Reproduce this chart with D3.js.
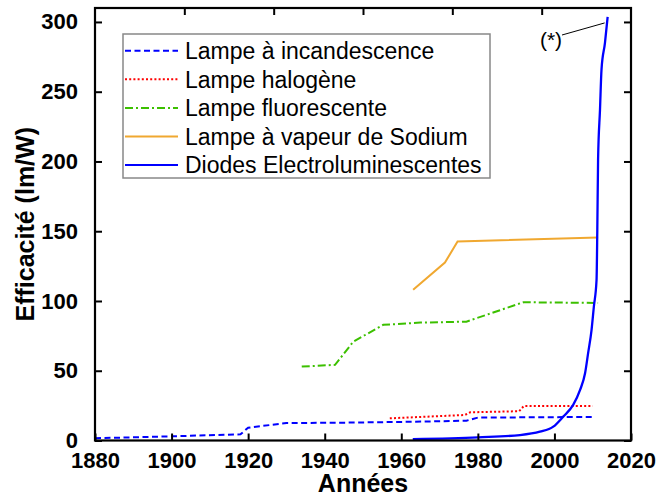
<!DOCTYPE html>
<html>
<head>
<meta charset="utf-8">
<script src="https://cdn.jsdelivr.net/npm/d3@7"></script>
<style>
  body { margin: 0; background: #fff; }
  text { font-family: "Liberation Sans", Arial, sans-serif; }
</style>
</head>
<body>
<svg id="chart" width="656" height="504"></svg>
<script>
// values (year, lm/W)
var incandYears = [1880, 1900, 1918, 1920, 1930, 1945, 1960, 1977, 1980, 2010];
var incandVals  = [1.6, 3, 4.4, 9.2, 12.5, 12.8, 13.3, 14.2, 16.4, 16.9];

var halogenYears = [1957, 1976.6, 1978, 1990.8, 1992, 2010];
var halogenVals  = [15.9, 18.3, 20.2, 21, 24.7, 24.7];

var fluoYears = [1934, 1942.7, 1947.5, 1955.3, 1965, 1977, 1991.9, 2011.4];
var fluoVals  = [53, 54.2, 70.9, 82.9, 84.5, 85.2, 99.1, 98.6];

var sodiumYears = [1963.1, 1971.4, 1974.7, 2011.4];
var sodiumVals  = [108, 127.5, 142.6, 145.5];

var ledYears = [1963, 1980, 1991, 1996.2, 1999.7, 2002.3, 2004.9, 2006.7, 2008, 2008.8, 2009.7, 2010.3, 2011, 2011.2, 2011.4, 2011.9, 2012.3, 2013.2, 2013.9];
var ledVals  = [1, 2.3, 3.9, 6.3, 9.9, 17.1, 25.5, 36.2, 48.2, 62.6, 79.3, 96, 115, 151, 201, 237, 266, 285, 303.6];

var seriesNames = ["Lampe à incandescence", "Lampe halogène", "Lampe fluorescente",
                   "Lampe à vapeur de Sodium", "Diodes Electroluminescentes"];
var seriesColors = ["#0000ff", "#ff0000", "#3cc000", "#f0a830", "#0000ff"];
var seriesDash = ["6,3.5", "2,2.2", "8,3,2,3", null, null];

var xTicks = [1880, 1900, 1920, 1940, 1960, 1980, 2000, 2020];
var yTicks = [0, 50, 100, 150, 200, 250, 300];
var topTicks = [1903.33, 1926.67, 1950, 1973.33, 1996.67];

var svg = d3.select("#chart");
var plotL = 95, plotR = 631, plotT = 8, plotB = 440.5;

var x = d3.scaleLinear().domain([1880, 2020]).range([plotL, plotR]);
var y = d3.scaleLinear().domain([0, 310]).range([plotB, plotT]);

function zip(xs, ys) {
    return xs.map(function (d, i) { return [d, ys[i]]; });
}
var series = [
    zip(incandYears, incandVals),
    zip(halogenYears, halogenVals),
    zip(fluoYears, fluoVals),
    zip(sodiumYears, sodiumVals),
    zip(ledYears, ledVals)
];

var line = d3.line()
    .x(function (d) { return x(d[0]); })
    .y(function (d) { return y(d[1]); });
var ledLine = d3.line()
    .x(function (d) { return x(d[0]); })
    .y(function (d) { return y(d[1]); })
    .curve(d3.curveMonotoneX);

// data lines
series.forEach(function (s, i) {
    svg.append("path")
        .attr("d", i === 4 ? ledLine(s) : line(s))
        .attr("fill", "none")
        .attr("stroke", seriesColors[i])
        .attr("stroke-width", i === 4 ? 2.3 : 2)
        .attr("stroke-dasharray", seriesDash[i]);
});

// frame with inner ticks
var bottomAxis = svg.append("g")
    .attr("transform", "translate(0," + plotB + ")")
    .call(d3.axisBottom(x).tickValues(xTicks).tickSizeInner(-7).tickSizeOuter(0).tickPadding(12).tickFormat(d3.format("d")));
var leftAxis = svg.append("g")
    .attr("transform", "translate(" + plotL + ",0)")
    .call(d3.axisLeft(y).tickValues(yTicks).tickSizeInner(-7).tickSizeOuter(0).tickPadding(17));
var topAxis = svg.append("g")
    .attr("transform", "translate(0," + plotT + ")")
    .call(d3.axisTop(x).tickValues(topTicks).tickSizeInner(-7).tickSizeOuter(0).tickFormat(""));
var rightAxis = svg.append("g")
    .attr("transform", "translate(" + plotR + ",0)")
    .call(d3.axisRight(y).tickValues(yTicks).tickSizeInner(-7).tickSizeOuter(0).tickFormat(""));

[bottomAxis, leftAxis, topAxis, rightAxis].forEach(function (g) {
    g.select(".domain").remove();
    g.selectAll(".tick line").attr("stroke", "#000").attr("stroke-width", 2);
    g.selectAll(".tick text")
        .attr("fill", "#000")
        .style("font-size", "22px")
        .style("font-weight", "bold");
});

svg.append("rect")
    .attr("x", plotL).attr("y", plotT)
    .attr("width", plotR - plotL).attr("height", plotB - plotT)
    .attr("fill", "none").attr("stroke", "#000").attr("stroke-width", 2.2);

// axis titles
svg.append("text")
    .attr("x", (plotL + plotR) / 2).attr("y", 492)
    .attr("text-anchor", "middle")
    .style("font-size", "25px").style("font-weight", "bold")
    .text("Années");
svg.append("text")
    .attr("transform", "translate(34," + (plotT + plotB) / 2 + ") rotate(-90)")
    .attr("text-anchor", "middle")
    .style("font-size", "25px").style("font-weight", "bold")
    .text("Efficacité (lm/W)");

// legend
var legend = svg.append("g");
legend.append("rect")
    .attr("x", 123).attr("y", 34).attr("width", 367).attr("height", 144)
    .attr("fill", "#fff").attr("stroke", "#888").attr("stroke-width", 1.5);
seriesNames.forEach(function (name, i) {
    var cy = 50.7 + i * 28.6;
    legend.append("line")
        .attr("x1", 125).attr("x2", 178).attr("y1", cy).attr("y2", cy)
        .attr("stroke", seriesColors[i]).attr("stroke-width", 2)
        .attr("stroke-dasharray", seriesDash[i]);
    legend.append("text")
        .attr("x", 185).attr("y", cy + 8.3)
        .style("font-size", "23px")
        .text(name);
});

// annotation
var tip = series[4][series[4].length - 1];
svg.append("line")
    .attr("x1", 562).attr("y1", 35)
    .attr("x2", x(tip[0]) - 3).attr("y2", y(tip[1]) + 6)
    .attr("stroke", "#000").attr("stroke-width", 1);
svg.append("text")
    .attr("x", 551).attr("y", 47)
    .attr("text-anchor", "middle")
    .style("font-size", "21px")
    .text("(*)");
</script>
</body>
</html>
